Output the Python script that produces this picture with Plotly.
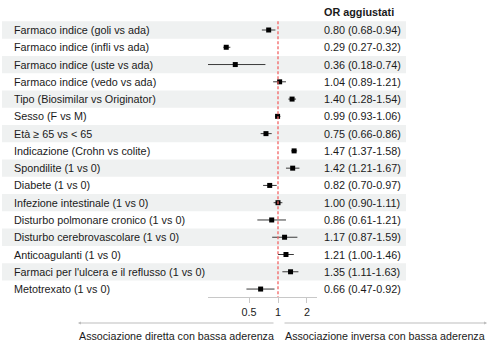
import plotly.graph_objects as go

labels = [
    "Farmaco indice (goli vs ada)",
    "Farmaco indice (infli vs ada)",
    "Farmaco indice (uste vs ada)",
    "Farmaco indice (vedo vs ada)",
    "Tipo (Biosimilar vs Originator)",
    "Sesso (F vs M)",
    "Età ≥ 65 vs < 65",
    "Indicazione (Crohn vs colite)",
    "Spondilite (1 vs 0)",
    "Diabete (1 vs 0)",
    "Infezione intestinale (1 vs 0)",
    "Disturbo polmonare cronico (1 vs 0)",
    "Disturbo cerebrovascolare (1 vs 0)",
    "Anticoagulanti (1 vs 0)",
    "Farmaci per l'ulcera e il reflusso (1 vs 0)",
    "Metotrexato (1 vs 0)",
]
or_vals = [0.80, 0.29, 0.36, 1.04, 1.40, 0.99, 0.75, 1.47, 1.42, 0.82, 1.00, 0.86, 1.17, 1.21, 1.35, 0.66]
ci_low = [0.68, 0.27, 0.18, 0.89, 1.28, 0.93, 0.66, 1.37, 1.21, 0.70, 0.90, 0.61, 0.87, 1.00, 1.11, 0.47]
ci_high = [0.94, 0.32, 0.74, 1.21, 1.54, 1.06, 0.86, 1.58, 1.67, 0.97, 1.11, 1.21, 1.59, 1.46, 1.63, 0.92]
tick_vals = [0.5, 1, 2]
tick_text = ["0.5", "1", "2"]
header = "OR aggiustati"
left_note = "Associazione diretta con bassa aderenza"
right_note = "Associazione inversa con bassa aderenza"

W, H = 495, 343
FONT = "Liberation Sans, Arial, sans-serif"
n = len(labels)
rows = list(range(n))

fig = go.Figure()

fig.add_trace(go.Scatter(
    x=or_vals, y=rows, mode="markers",
    marker=dict(symbol="square", size=5, color="black"),
    error_x=dict(type="data", symmetric=False,
                 array=[h - o for h, o in zip(ci_high, or_vals)],
                 arrayminus=[o - l for o, l in zip(or_vals, ci_low)],
                 thickness=1, width=0, color="#3a3a3a"),
    showlegend=False, hoverinfo="skip",
))

shapes = []
for i in rows:
    if i % 2 == 0:
        shapes.append(dict(type="rect", xref="paper", yref="y",
                           x0=2 / W, x1=406 / W, y0=i - 0.5, y1=i + 0.5,
                           fillcolor="#eff1f1", line=dict(width=0), layer="below"))
# reference line at OR = 1
y_axis_val = (297 - 30) / 17.27
shapes.append(dict(type="line", xref="x", yref="y", x0=1, x1=1,
                   y0=-0.5, y1=y_axis_val,
                   line=dict(color="#f26464", width=1.3, dash="3px,2px")))

annotations = []
for i, lab in enumerate(labels):
    annotations.append(dict(x=12 / W, y=i, xref="paper", yref="y", text=lab,
                            showarrow=False, xanchor="left", yanchor="middle",
                            font=dict(size=10.8, color="#1a1a1a", family=FONT)))
    annotations.append(dict(x=322 / W, y=i, xref="paper", yref="y",
                            text=f"{or_vals[i]:.2f} ({ci_low[i]:.2f}-{ci_high[i]:.2f})",
                            showarrow=False, xanchor="left", yanchor="middle",
                            font=dict(size=10.8, color="#1a1a1a", family=FONT)))
annotations.append(dict(x=322 / W, y=1 - 12 / H, xref="paper", yref="paper",
                        text="<b>" + header + "</b>", showarrow=False,
                        xanchor="left", yanchor="middle",
                        font=dict(size=10.8, color="#1a1a1a", family=FONT)))
# arrows
ay_p = 1 - 323 / H
annotations.append(dict(x=78 / W, y=ay_p, xref="paper", yref="paper", text="",
                        showarrow=True, ax=275 - 78, ay=0, arrowhead=2,
                        arrowsize=0.6, arrowwidth=1, arrowcolor="#bdbdbd"))
annotations.append(dict(x=487 / W, y=ay_p, xref="paper", yref="paper", text="",
                        showarrow=True, ax=283 - 487, ay=0, arrowhead=2,
                        arrowsize=0.6, arrowwidth=1, arrowcolor="#bdbdbd"))
annotations.append(dict(x=276 / W, y=1 - 336 / H, xref="paper", yref="paper",
                        text=left_note, showarrow=False, xanchor="right",
                        yanchor="middle", font=dict(size=10.7, color="#1a1a1a", family=FONT)))
annotations.append(dict(x=283 / W, y=1 - 336 / H, xref="paper", yref="paper",
                        text=right_note, showarrow=False, xanchor="left",
                        yanchor="middle", font=dict(size=10.7, color="#1a1a1a", family=FONT)))

fig.update_layout(
    width=W, height=H, margin=dict(l=0, r=0, t=0, b=0),
    paper_bgcolor="white", plot_bgcolor="rgba(0,0,0,0)",
    shapes=shapes, annotations=annotations,
    xaxis=dict(type="log", range=[-0.727, 0.405], domain=[208 / W, 317 / W],
               anchor="free", position=1 - 297 / H,
               showgrid=False, zeroline=False, showline=True,
               linecolor="#c8c8c8", linewidth=1,
               ticks="outside", ticklen=5, tickcolor="#c8c8c8",
               tickvals=tick_vals, ticktext=tick_text,
               tickfont=dict(size=10.8, color="#1a1a1a", family=FONT)),
    yaxis=dict(range=[(H - 30) / 17.27, -30 / 17.27], domain=[0, 1],
               visible=False, showgrid=False, zeroline=False),
)

fig.write_html("out.html", config={"displayModeBar": False},
               post_script="document.body.style.margin='0';document.body.style.overflow='hidden';")
